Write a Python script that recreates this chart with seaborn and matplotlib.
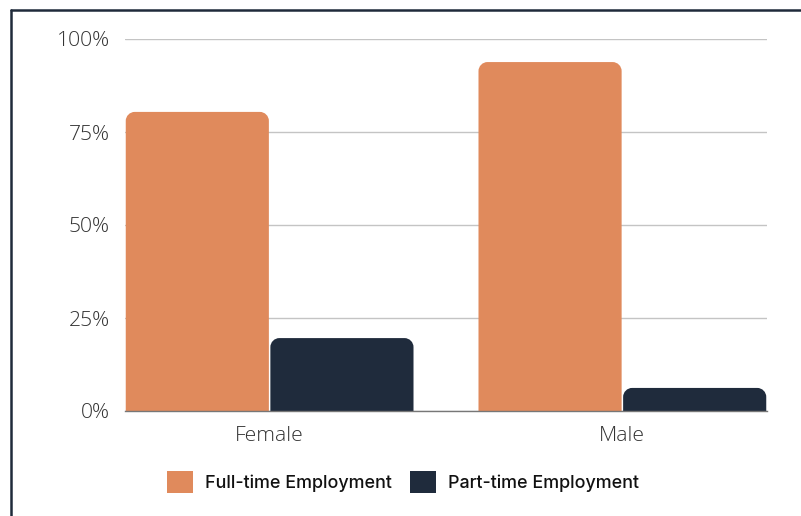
import matplotlib
matplotlib.use("Agg")
import matplotlib.pyplot as plt
import seaborn as sns
import pandas as pd
from matplotlib.path import Path
from matplotlib.patches import PathPatch, Patch
from matplotlib.lines import Line2D

# Employment share by gender
genders = ["Female", "Male"]
series = ["Full-time Employment", "Part-time Employment"]
full_time = [80.4, 93.8]
part_time = [19.6, 6.2]
y_ticks = [0, 25, 50, 75, 100]
y_tick_labels = ["0%", "25%", "50%", "75%", "100%"]

colors = {"Full-time Employment": "#E08A5C", "Part-time Employment": "#1F2B3C"}

df = pd.DataFrame({
    "gender": genders * 2,
    "type": [series[0]] * len(genders) + [series[1]] * len(genders),
    "value": full_time + part_time,
})

sns.set_theme(style="white")
plt.rcParams["font.family"] = ["Open Sans", "DejaVu Sans"]

fig = plt.figure(figsize=(8.01, 5.16), dpi=100)
ax = fig.add_axes([125 / 801, 1 - 411 / 516, 642 / 801, 372 / 516])

sns.barplot(data=df, x="gender", y="value", hue="type", palette=colors,
            width=0.82, ax=ax, legend=False, saturation=1)

ax.set_xlim(-0.41, 1.41)
ax.set_ylim(0, 100)
ax.set_yticks(y_ticks)
ax.set_yticklabels(y_tick_labels)
ax.set_xlabel("")
ax.set_ylabel("")
ax.yaxis.grid(True, color="#C4C4C4", linewidth=1.0)
ax.set_axisbelow(True)
for side in ["top", "right", "left"]:
    ax.spines[side].set_visible(False)
ax.spines["bottom"].set_color("#777777")
ax.spines["bottom"].set_linewidth(1.0)
ax.spines["bottom"].set_zorder(5)
ax.tick_params(axis="y", length=0, pad=11, labelsize=15.2, labelcolor="#333333")
ax.tick_params(axis="x", length=0, pad=11, labelsize=15.2, labelcolor="#333333")
for lbl in ax.get_yticklabels() + ax.get_xticklabels():
    lbl.set_fontweight("light")

# Replace square bars with top-rounded ones
fig.canvas.draw()
p0 = ax.transData.transform((0, 0))
p1 = ax.transData.transform((1, 1))
px_x = p1[0] - p0[0]
px_y = p1[1] - p0[1]
radius_px = 9
rx = radius_px / px_x
ry = radius_px / px_y
gap = 0.75 / px_x
k = 0.5523

for bar in list(ax.patches):
    x0 = bar.get_x() + gap
    w = bar.get_width() - 2 * gap
    h = bar.get_height()
    x1 = x0 + w
    fc = bar.get_facecolor()
    verts = [
        (x0, 0), (x0, h - ry),
        (x0, h - ry + k * ry), (x0 + rx - k * rx, h), (x0 + rx, h),
        (x1 - rx, h),
        (x1 - rx + k * rx, h), (x1, h - ry + k * ry), (x1, h - ry),
        (x1, 0), (x0, 0),
    ]
    codes = [Path.MOVETO, Path.LINETO,
             Path.CURVE4, Path.CURVE4, Path.CURVE4,
             Path.LINETO,
             Path.CURVE4, Path.CURVE4, Path.CURVE4,
             Path.LINETO, Path.CLOSEPOLY]
    bar.remove()
    ax.add_patch(PathPatch(Path(verts, codes), facecolor=fc, edgecolor="none", zorder=3))

handles = [Patch(facecolor=colors[s], edgecolor="none", label=s) for s in series]
leg = fig.legend(handles=handles, loc="center", bbox_to_anchor=(0.503, 0.066), ncol=2,
                 frameon=False, handlelength=1.45, handleheight=1.45,
                 handletextpad=0.65, columnspacing=1.05,
                 prop={"family": ["Inter", "DejaVu Sans"], "weight": "medium", "size": 12.9})
for t in leg.get_texts():
    t.set_color("#111111")

# Frame lines along the top and left edges
border = "#1F2A3A"
fig.add_artist(Line2D([10.5 / 801, 10.5 / 801], [0, 1 - 10 / 516], color=border,
                      linewidth=1.8, transform=fig.transFigure))
fig.add_artist(Line2D([10.5 / 801, 1], [1 - 10 / 516, 1 - 10 / 516], color=border,
                      linewidth=1.8, transform=fig.transFigure))

fig.savefig("out.png", dpi=100, facecolor="white")
